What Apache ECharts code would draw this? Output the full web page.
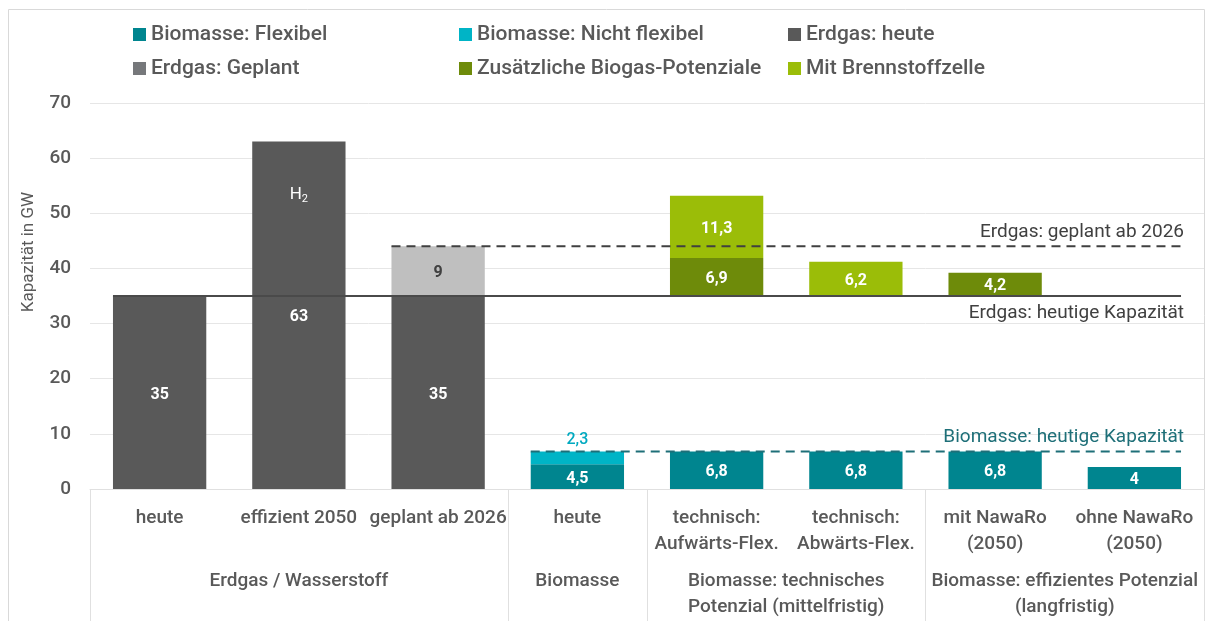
<!DOCTYPE html>
<html>
<head>
<meta charset="utf-8">
<script src="https://cdn.jsdelivr.net/npm/echarts@6/dist/echarts.min.js"></script>
<style>
  html, body { margin: 0; padding: 0; background: #fff; }
  #chart { width: 1214px; height: 621px; }
</style>
</head>
<body>
<div id="chart"></div>
<script>
// Kategorien (untere Achse) und Gruppen
const kategorien = ['heute', 'effizient 2050', 'geplant ab 2026', 'heute',
  'technisch:\nAufwärts-Flex.', 'technisch:\nAbwärts-Flex.', 'mit NawaRo\n(2050)', 'ohne NawaRo\n(2050)'];
const gruppen = ['Erdgas / Wasserstoff', 'Biomasse', 'Biomasse: technisches\nPotenzial (mittelfristig)',
  'Biomasse: effizientes Potenzial\n(langfristig)'];
const gruppenGrenzen = [0, 3, 4, 6, 8];

// Werte in GW
const biomasseFlexibel = [null, null, null, 4.5, 6.8, 6.8, 6.8, 4];
const biomasseNichtFlexibel = [null, null, null, 2.3, null, null, null, null];
const erdgasHeute = [35, 63, 35, null, null, null, null, null];
const erdgasGeplant = [null, null, 9, null, null, null, null, null];
const zusaetzlicheBiogas = [null, null, null, null, 6.9, null, 4.2, null];
const brennstoffzelle = [null, null, null, null, 11.3, 6.2, null, null];
const gruenBasis = 35; // gruene Balken beginnen auf Hoehe der heutigen Erdgas-Kapazitaet

// Referenzlinien
const erdgasHeuteKap = 35;
const erdgasGeplantKap = 44;
const biomasseHeuteKap = 6.8;
const h2Position = 53.3;

const yTicks = [0, 10, 20, 30, 40, 50, 60, 70];

const farben = {
  flexibel: '#00858f',
  nichtFlexibel: '#00b4c6',
  erdgasHeute: '#595959',
  erdgasGeplant: '#bfbfbf',
  zusaetzlich: '#6e8b0a',
  brennstoff: '#9bbd08'
};

const FONT = 'Roboto';
const textGrau = '#595959';
const barBreite = 0.67;

// Abstandshalter fuer die gruenen Balken
const abstand = kategorien.map((k, i) =>
  (zusaetzlicheBiogas[i] != null || brennstoffzelle[i] != null) ? gruenBasis - (biomasseFlexibel[i] || 0) : null);

const fmt = v => String(v).replace('.', ',');

function balken(name, daten, farbe, labelFarbe) {
  return {
    name: name,
    type: 'bar',
    stack: 'gesamt',
    data: daten,
    barWidth: (barBreite * 100) + '%',
    itemStyle: { color: farbe },
    label: {
      show: true,
      position: 'inside',
      offset: [0, 2],
      color: labelFarbe || '#fff',
      fontFamily: FONT,
      fontWeight: 'bold',
      fontSize: 16,
      formatter: p => fmt(p.value)
    }
  };
}

// Linie von der linken Kante eines Balkens bis zur rechten Kante des letzten Balkens
function linie(wert, abIndex, farbe, typ, text, textPos, textFarbe) {
  const x0 = abIndex + 0.5 - barBreite / 2;
  const x1 = kategorien.length - 0.5 + barBreite / 2;
  return {
    type: 'line',
    xAxisIndex: 1,
    symbol: 'circle',
    symbolSize: 0,
    showSymbol: true,
    silent: true,
    z: 5,
    lineStyle: { color: farbe, width: 2, type: typ },
    data: [
      { value: [x0, wert], label: { show: false } },
      { value: [x1, wert], label: {
          show: true, position: textPos, align: 'right', distance: textPos === 'top' ? 5 : 8,
          offset: [3, 0],
          formatter: text, color: textFarbe, fontFamily: FONT, fontSize: 19
      } }
    ]
  };
}

const chart = echarts.init(document.getElementById('chart'));

const legendeText = { color: textGrau, fontFamily: FONT, fontSize: 21, fontWeight: 500 };
function legende(left, namen, extra) {
  return {
    orient: 'vertical',
    left: left,
    top: 19,
    itemGap: 13,
    itemWidth: 13,
    itemHeight: 13,
    icon: 'rect',
    textStyle: legendeText,
    data: namen.map(n => extra && extra[n] ? { name: n, itemStyle: extra[n] } : n)
  };
}

const option = {
  animation: false,
  textStyle: { fontFamily: FONT },
  graphic: [{
    type: 'rect',
    shape: { x: 8.5, y: 9.5, width: 1196, height: 620 },
    style: { fill: 'none', stroke: '#d9d9d9', lineWidth: 1 },
    silent: true
  }],
  legend: [
    legende(128, ['Biomasse: Flexibel', 'Erdgas: Geplant'], { 'Erdgas: Geplant': { color: '#76787b' } }),
    legende(454, ['Biomasse: Nicht flexibel', 'Zusätzliche Biogas-Potenziale']),
    legende(783, ['Erdgas: heute', 'Mit Brennstoffzelle'])
  ],
  grid: { left: 90, right: 10, top: 103, bottom: 132 },
  xAxis: [{
    type: 'category',
    data: kategorien,
    axisLine: { lineStyle: { color: '#e0e0e0', width: 1 } },
    axisTick: { show: false },
    axisLabel: {
      interval: 0,
      margin: 16,
      color: textGrau,
      fontFamily: FONT,
      fontSize: 19,
      fontWeight: 500,
      lineHeight: 26
    }
  }, {
    type: 'value',
    min: 0,
    max: kategorien.length,
    position: 'bottom',
    axisLine: { show: false },
    splitLine: { show: false },
    axisTick: {
      show: true,
      customValues: gruppenGrenzen,
      length: 132,
      lineStyle: { color: '#e0e0e0', width: 1 }
    },
    axisLabel: {
      customValues: gruppenGrenzen.slice(0, -1).map((g, i) => (g + gruppenGrenzen[i + 1]) / 2),
      formatter: (v) => {
        const i = gruppenGrenzen.slice(0, -1).findIndex((g, j) => (g + gruppenGrenzen[j + 1]) / 2 === v);
        return gruppen[i] || '';
      },
      margin: 79,
      verticalAlign: 'top',
      color: textGrau,
      fontFamily: FONT,
      fontSize: 19,
      fontWeight: 500,
      lineHeight: 26
    }
  }],
  yAxis: {
    type: 'value',
    min: yTicks[0],
    max: yTicks[yTicks.length - 1],
    interval: 10,
    name: 'Kapazität in GW',
    nameLocation: 'middle',
    nameRotate: 90,
    nameGap: 53,
    nameTextStyle: { color: textGrau, fontFamily: FONT, fontSize: 17, padding: [0, 0, 0, 88] },
    axisLine: { show: false },
    axisTick: { show: false },
    axisLabel: { color: textGrau, fontFamily: FONT, fontSize: 19, fontWeight: 500, margin: 19 },
    splitLine: { lineStyle: { color: '#e6e6e6', width: 1 } }
  },
  series: [
    balken('Biomasse: Flexibel', biomasseFlexibel, farben.flexibel),
    Object.assign(balken('Biomasse: Nicht flexibel', biomasseNichtFlexibel, farben.nichtFlexibel), {
      label: {
        show: true, position: 'top', distance: 4, color: '#00a9c0',
        fontFamily: FONT, fontWeight: 500, fontSize: 16, formatter: p => fmt(p.value)
      }
    }),
    Object.assign(balken('Erdgas: heute', erdgasHeute, farben.erdgasHeute), {
      markPoint: {
        symbol: 'circle',
        symbolSize: 0,
        silent: true,
        data: [{ coord: [1, h2Position], value: 'H2' }],
        label: {
          show: true,
          position: 'inside',
          formatter: 'H{sub|2}',
          color: '#fff',
          fontFamily: FONT,
          fontSize: 17,
          rich: { sub: { fontSize: 11, color: '#fff', verticalAlign: 'bottom', padding: [9, 0, 0, 0] } }
        }
      }
    }),
    balken('Erdgas: Geplant', erdgasGeplant, farben.erdgasGeplant, '#404040'),
    {
      name: 'abstand',
      type: 'bar',
      stack: 'gesamt',
      data: abstand,
      barWidth: (barBreite * 100) + '%',
      itemStyle: { color: 'transparent' },
      silent: true
    },
    balken('Zusätzliche Biogas-Potenziale', zusaetzlicheBiogas, farben.zusaetzlich),
    balken('Mit Brennstoffzelle', brennstoffzelle, farben.brennstoff),
    linie(erdgasHeuteKap, 0, '#4a4a4a', 'solid', 'Erdgas: heutige Kapazität', 'bottom', '#404040'),
    linie(erdgasGeplantKap, 2, '#404040', [9, 6], 'Erdgas: geplant ab 2026', 'top', '#404040'),
    linie(biomasseHeuteKap, 3, '#1e6f78', [9, 6], 'Biomasse: heutige Kapazität', 'top', '#1e6f78')
  ]
};

chart.setOption(option);
</script>
</body>
</html>
